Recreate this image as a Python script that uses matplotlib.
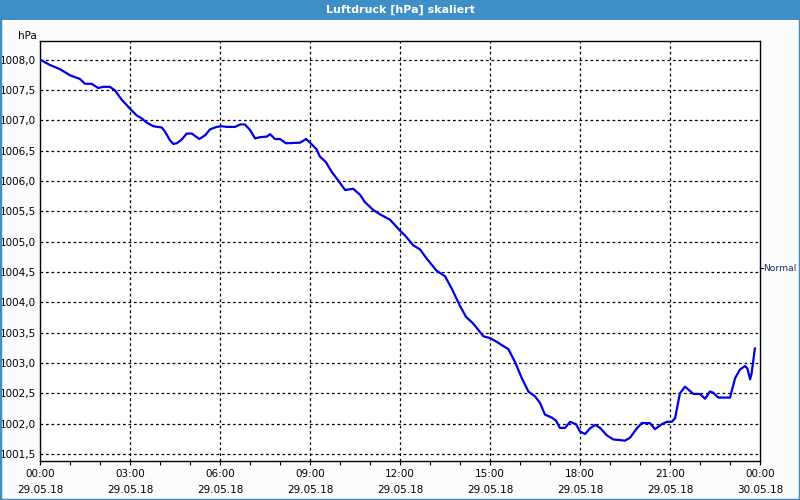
import matplotlib
matplotlib.use("Agg")
import matplotlib.pyplot as plt
from matplotlib.patches import Rectangle
from matplotlib.ticker import FixedLocator, MultipleLocator

# ---- data (hours since 29.05.18 00:00, pressure hPa) ----
hours = [0.0, 0.33, 0.67, 1.0, 1.33, 1.5, 1.72, 1.94, 2.11, 2.33, 2.5, 2.72, 3.0,
         3.22, 3.39, 3.56, 3.78, 4.06, 4.17, 4.33, 4.44, 4.56, 4.72, 4.89, 5.06,
         5.31, 5.5, 5.67, 5.89, 6.06, 6.22, 6.5, 6.67, 6.83, 7.0, 7.17, 7.33,
         7.56, 7.67, 7.83, 8.0, 8.2, 8.67, 8.87, 9.0, 9.22, 9.33, 9.53, 9.72,
         9.89, 10.17, 10.44, 10.67, 10.83, 11.11, 11.33, 11.67, 12.0, 12.17,
         12.44, 12.67, 12.89, 13.22, 13.5, 13.72, 14.0, 14.2, 14.44, 14.78,
         15.0, 15.22, 15.44, 15.61, 15.83, 16.06, 16.28, 16.5, 16.67, 16.83,
         17.06, 17.2, 17.33, 17.5, 17.67, 17.87, 18.0, 18.17, 18.33, 18.5,
         18.67, 18.89, 19.11, 19.33, 19.5, 19.67, 19.89, 20.06, 20.33, 20.5,
         20.72, 20.89, 21.06, 21.17, 21.33, 21.5, 21.78, 22.0, 22.17, 22.33,
         22.44, 22.61, 23.0, 23.17, 23.33, 23.5, 23.58, 23.67, 23.72, 23.83]
pressure = [1008.00, 1007.91, 1007.84, 1007.74, 1007.68, 1007.60, 1007.60, 1007.53,
            1007.55, 1007.55, 1007.49, 1007.34, 1007.19, 1007.08, 1007.03, 1006.96,
            1006.90, 1006.88, 1006.81, 1006.67, 1006.61, 1006.62, 1006.68, 1006.78,
            1006.78, 1006.69, 1006.75, 1006.85, 1006.89, 1006.90, 1006.89, 1006.89,
            1006.93, 1006.93, 1006.84, 1006.70, 1006.72, 1006.73, 1006.77, 1006.69,
            1006.69, 1006.62, 1006.63, 1006.69, 1006.63, 1006.52, 1006.40, 1006.31,
            1006.15, 1006.04, 1005.85, 1005.87, 1005.77, 1005.65, 1005.52, 1005.45,
            1005.36, 1005.18, 1005.10, 1004.94, 1004.87, 1004.72, 1004.52, 1004.43,
            1004.23, 1003.94, 1003.76, 1003.65, 1003.44, 1003.41, 1003.35, 1003.28,
            1003.23, 1003.02, 1002.75, 1002.53, 1002.45, 1002.34, 1002.15, 1002.10,
            1002.05, 1001.93, 1001.93, 1002.03, 1001.99, 1001.87, 1001.83, 1001.92,
            1001.98, 1001.93, 1001.81, 1001.74, 1001.73, 1001.72, 1001.77, 1001.92,
            1002.01, 1002.01, 1001.91, 1001.99, 1002.03, 1002.03, 1002.09, 1002.50,
            1002.61, 1002.49, 1002.49, 1002.41, 1002.53, 1002.51, 1002.43, 1002.43,
            1002.75, 1002.89, 1002.95, 1002.91, 1002.73, 1002.83, 1003.24]

x_tick_hours = [0, 3, 6, 9, 12, 15, 18, 21, 24]
x_tick_labels = ["00:00\n29.05.18", "03:00\n29.05.18", "06:00\n29.05.18",
                 "09:00\n29.05.18", "12:00\n29.05.18", "15:00\n29.05.18",
                 "18:00\n29.05.18", "21:00\n29.05.18", "00:00\n30.05.18"]
y_ticks = [1001.5, 1002.0, 1002.5, 1003.0, 1003.5, 1004.0, 1004.5, 1005.0,
           1005.5, 1006.0, 1006.5, 1007.0, 1007.5, 1008.0]
normal_value = 1004.56
title = "Luftdruck [hPa] skaliert"

BLUE_BAR = "#3d8fc6"

fig = plt.figure(figsize=(8, 5), dpi=100, facecolor="#fbfdfd")
ax = fig.add_axes([40 / 800, 1 - 460.7 / 500, 720 / 800, 420 / 500])
ax.set_facecolor("white")

ax.plot(hours, pressure, color="#0000e6", lw=1.6, solid_joinstyle="round", zorder=3)

ax.set_xlim(0, 24)
ax.set_ylim(1001.39, 1008.31)

ax.set_xticks(x_tick_hours)
ax.set_xticklabels(x_tick_labels, fontsize=7.5, linespacing=1.75)
ax.xaxis.set_minor_locator(MultipleLocator(1))
ax.set_yticks(y_ticks)
ax.set_yticklabels([f"{v:.1f}".replace(".", ",") for v in y_ticks], fontsize=7.5)

ax.tick_params(axis="x", which="both", direction="out", length=3, width=0.8,
               color="black", pad=3)
ax.tick_params(axis="y", which="both", length=0, pad=3)

dash = (0, (2.2, 2.2))
for h in x_tick_hours[1:-1]:
    ax.axvline(h, color="black", lw=0.9, linestyle=dash, zorder=1)
for v in y_ticks:
    ax.axhline(v, color="black", lw=0.9, linestyle=dash, zorder=1)

for s in ax.spines.values():
    s.set_color("black")
    s.set_linewidth(1.0)

# hPa unit label
ax.text(-0.005, 1.0, "hPa", transform=ax.transAxes, ha="right", va="bottom",
        fontsize=7.5)
# Normal marker on right side
ax.annotate("Normal", xy=(1.0, normal_value), xycoords=("axes fraction", "data"),
            xytext=(2, 0), textcoords="offset points", ha="left", va="center",
            fontsize=6.6, color="#1f2a66")
ax.plot([1.0, 1.004], [normal_value, normal_value], color="black", lw=0.8,
        transform=ax.get_yaxis_transform(), clip_on=False)

# title bar
fig.patches.append(Rectangle((0, 1 - 20 / 500), 1, 20 / 500, transform=fig.transFigure,
                             facecolor=BLUE_BAR, edgecolor="none", zorder=0))
fig.text(0.5, 1 - 10 / 500, title, ha="center", va="center", color="white",
         fontsize=8, fontweight="bold")
# outer border
fig.patches.append(Rectangle((0, 0), 1, 1, transform=fig.transFigure,
                             facecolor="none", edgecolor=BLUE_BAR, lw=2.5, zorder=5))

fig.savefig("out.png", dpi=100, facecolor=fig.get_facecolor())
